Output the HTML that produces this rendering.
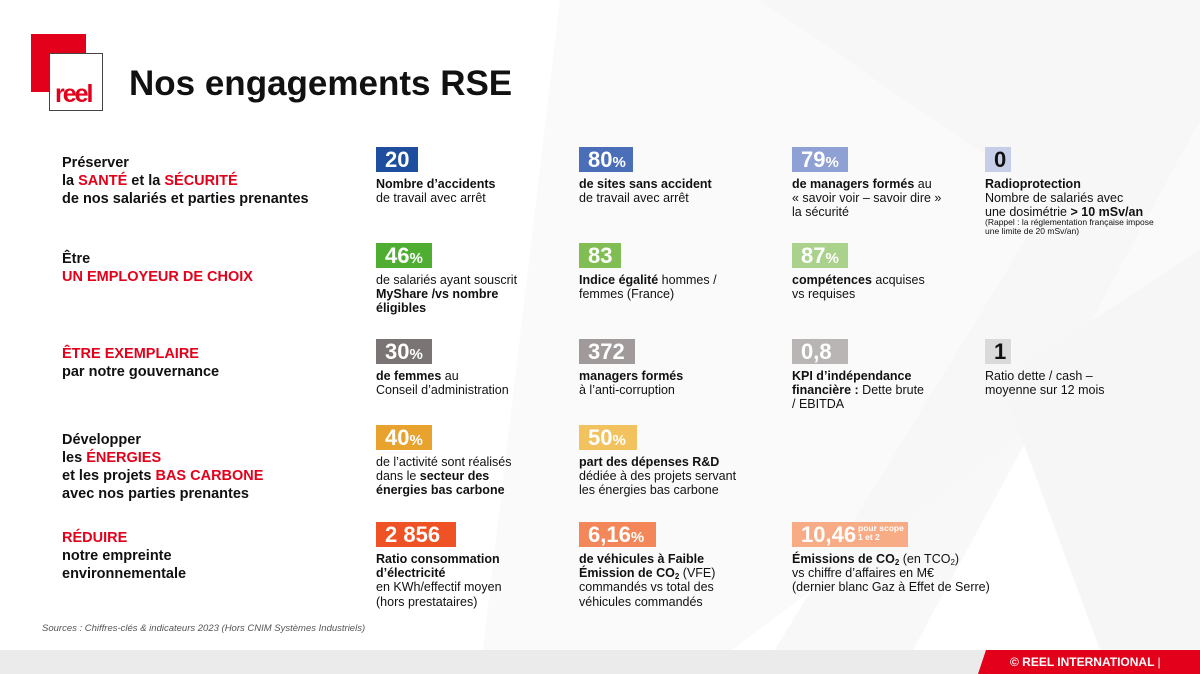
<!DOCTYPE html>
<html><head><meta charset="utf-8"><style>
body{margin:0;width:1200px;height:674px;position:relative;overflow:hidden;background:#fff;font-family:"Liberation Sans",sans-serif;color:#111}
.a{position:absolute}
.box{position:absolute;height:25px;line-height:26px;color:#fff;font-weight:bold;font-size:22px;padding-left:9px;box-sizing:border-box;white-space:nowrap}
.box small{font-size:15px}
.t{position:absolute;font-size:12.5px;line-height:14.2px;white-space:nowrap}
.l{position:absolute;left:62px;font-size:14.5px;line-height:18px;font-weight:bold}
.r{color:#e2001a}
sub{font-size:8px;vertical-align:-2px;line-height:0}
</style></head><body>
<svg class="a" style="left:0;top:0" width="1200" height="674">
<polygon points="560,0 1200,0 1200,300 700,674 480,674" fill="#fafafa"/>
<polygon points="760,0 1200,0 1200,120 900,674 760,674 1050,200" fill="#f5f5f5" opacity=".7"/>
<polygon points="1000,380 1200,250 1200,650 1100,650" fill="#f6f6f6"/>
</svg>
<div class="a" style="left:31px;top:34px;width:55px;height:58px;background:#e2001a"></div>
<div class="a" style="left:49px;top:53px;width:54px;height:58px;background:#fff;border:1px solid #444;box-sizing:border-box">
<div style="position:absolute;left:5px;top:26px;font:bold 25px 'Liberation Sans',sans-serif;color:#e2001a;letter-spacing:-2px">reel</div></div>
<div class="a" style="left:129px;top:64px;font-size:35px;font-weight:bold;line-height:40px">Nos engagements RSE</div>

<div class="l" style="top:154px">Préserver<br>la <span class="r">SANTÉ</span> et la <span class="r">SÉCURITÉ</span><br>de nos salariés et parties prenantes</div>
<div class="l" style="top:250px">Être<br><span class="r">UN EMPLOYEUR DE CHOIX</span></div>
<div class="l" style="top:345px"><span class="r">ÊTRE EXEMPLAIRE</span><br>par notre gouvernance</div>
<div class="l" style="top:431px">Développer<br>les <span class="r">ÉNERGIES</span><br>et les projets <span class="r">BAS CARBONE</span><br>avec nos parties prenantes</div>
<div class="l" style="top:529px"><span class="r">RÉDUIRE</span><br>notre empreinte<br>environnementale</div>

<div class="box" style="left:376px;top:147px;width:42px;background:#1f4e9e">20</div>
<div class="t" style="left:376px;top:177px"><b>Nombre d’accidents</b><br>de travail avec arrêt</div>
<div class="box" style="left:579px;top:147px;width:54px;background:#4a6eb8">80<small>%</small></div>
<div class="t" style="left:579px;top:177px"><b>de sites sans accident</b><br>de travail avec arrêt</div>
<div class="box" style="left:792px;top:147px;width:56px;background:#8ea0d4">79<small>%</small></div>
<div class="t" style="left:792px;top:177px"><b>de managers formés</b> au<br>« savoir voir – savoir dire »<br>la sécurité</div>
<div class="box" style="left:985px;top:147px;width:26px;background:#c7cfe8;color:#111">0</div>
<div class="t" style="left:985px;top:177px"><b>Radioprotection</b><br>Nombre de salariés avec<br>une dosimétrie <b>&gt; 10 mSv/an</b></div>
<div class="t" style="left:985px;top:218px;font-size:8.5px;line-height:8.5px">(Rappel : la réglementation française impose<br>une limite de 20 mSv/an)</div>

<div class="box" style="left:376px;top:243px;width:56px;background:#4fae32">46<small>%</small></div>
<div class="t" style="left:376px;top:273px">de salariés ayant souscrit<br><b>MyShare /vs nombre<br>éligibles</b></div>
<div class="box" style="left:579px;top:243px;width:42px;background:#80bd52">83</div>
<div class="t" style="left:579px;top:273px"><b>Indice égalité</b> hommes /<br>femmes (France)</div>
<div class="box" style="left:792px;top:243px;width:56px;background:#aad28c">87<small>%</small></div>
<div class="t" style="left:792px;top:273px"><b>compétences</b> acquises<br>vs requises</div>

<div class="box" style="left:376px;top:339px;width:56px;background:#7a7474">30<small>%</small></div>
<div class="t" style="left:376px;top:369px"><b>de femmes</b> au<br>Conseil d’administration</div>
<div class="box" style="left:579px;top:339px;width:56px;background:#a09a9a">372</div>
<div class="t" style="left:579px;top:369px"><b>managers formés</b><br>à l’anti-corruption</div>
<div class="box" style="left:792px;top:339px;width:56px;background:#b9b5b5">0,8</div>
<div class="t" style="left:792px;top:369px"><b>KPI d’indépendance<br>financière :</b> Dette brute<br>/ EBITDA</div>
<div class="box" style="left:985px;top:339px;width:26px;background:#dadada;color:#111">1</div>
<div class="t" style="left:985px;top:369px">Ratio dette / cash –<br>moyenne sur 12 mois</div>

<div class="box" style="left:376px;top:425px;width:56px;background:#e8a22e">40<small>%</small></div>
<div class="t" style="left:376px;top:455px">de l’activité sont réalisés<br>dans le <b>secteur des<br>énergies bas carbone</b></div>
<div class="box" style="left:579px;top:425px;width:58px;background:#f2c25e">50<small>%</small></div>
<div class="t" style="left:579px;top:455px"><b>part des dépenses R&amp;D</b><br>dédiée à des projets servant<br>les énergies bas carbone</div>

<div class="box" style="left:376px;top:522px;width:80px;background:#ef5224">2 856</div>
<div class="t" style="left:376px;top:552px"><b>Ratio consommation<br>d’électricité</b><br>en KWh/effectif moyen<br>(hors prestataires)</div>
<div class="box" style="left:579px;top:522px;width:77px;background:#f4875a">6,16<small>%</small></div>
<div class="t" style="left:579px;top:552px"><b>de véhicules à Faible<br>Émission de CO<sub>2</sub></b> (VFE)<br>commandés vs total des<br>véhicules commandés</div>
<div class="box" style="left:792px;top:522px;width:116px;background:#f8ac86">10,46<span style="position:absolute;left:66px;top:2px;font-size:8.5px;line-height:8.5px">pour scope<br>1 et 2</span></div>
<div class="t" style="left:792px;top:552px"><b>Émissions de CO<sub>2</sub></b> (en TCO<sub>2</sub>)<br>vs chiffre d’affaires en M€<br>(dernier blanc Gaz à Effet de Serre)</div>

<div class="a" style="left:42px;top:623px;font-size:9.5px;font-style:italic;color:#555">Sources : Chiffres-clés &amp; indicateurs 2023 (Hors CNIM Systèmes Industriels)</div>
<div class="a" style="left:0;top:650px;width:1200px;height:24px;background:#ebebeb"></div>
<svg class="a" style="left:978px;top:650px" width="222" height="24"><polygon points="8,0 222,0 222,24 0,24" fill="#e2001a"/></svg>
<div class="a" style="left:1010px;top:655px;color:#fff;font-weight:bold;font-size:12px">© REEL INTERNATIONAL <span style="font-weight:normal">|</span></div>
</body></html>
